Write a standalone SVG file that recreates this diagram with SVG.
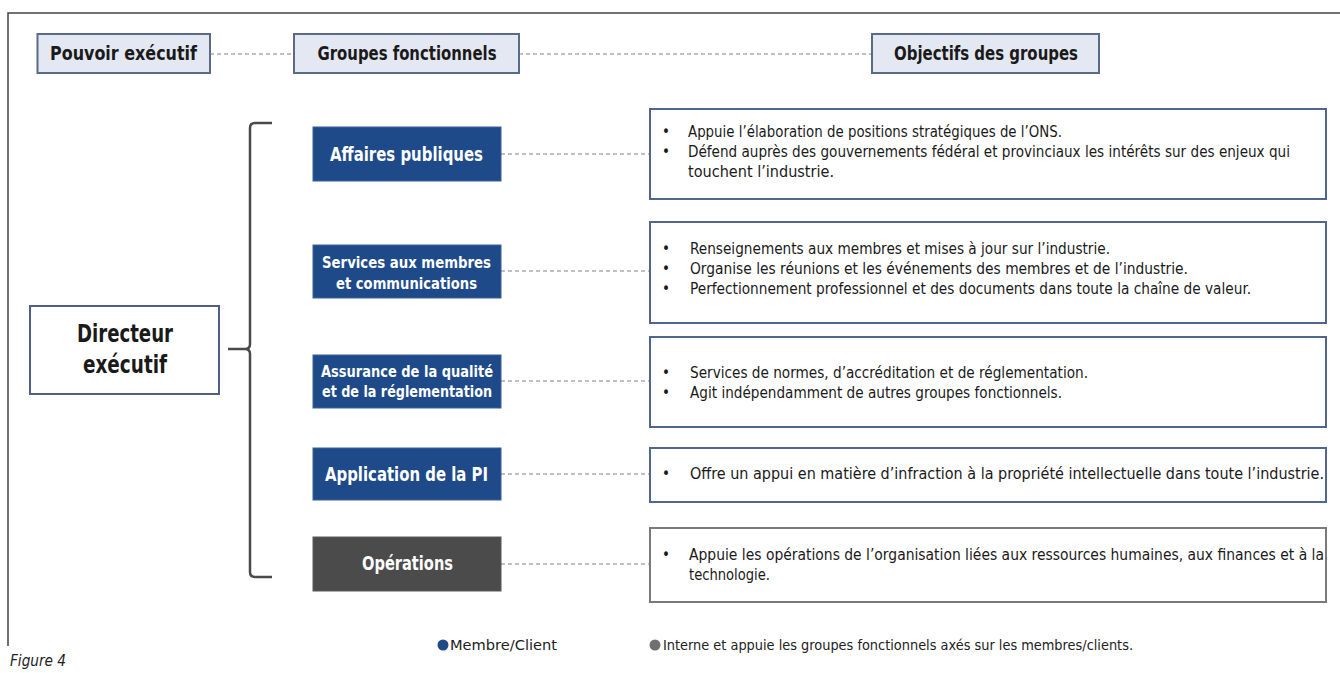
<svg xmlns="http://www.w3.org/2000/svg" width="1340" height="673" viewBox="0 0 1340 673">
<defs>
<style>
.hdr{fill:#e4e8f2;stroke:#5b6a86;stroke-width:2}
.hdrt{font-family:"Liberation Sans Narrow","DejaVu Sans Condensed","Liberation Sans",sans-serif;font-weight:bold;font-size:20px;fill:#1a1a1a;text-anchor:middle}
.blue{fill:#1e4a8a;stroke:#3a629c;stroke-width:1}
.grey{fill:#4b4b4b;stroke:#5a5a5a;stroke-width:1}
.bt{font-family:"Liberation Sans Narrow","DejaVu Sans Condensed","Liberation Sans",sans-serif;font-weight:bold;fill:#ffffff;text-anchor:middle}
.obj{fill:#ffffff;stroke:#4f6690;stroke-width:2}
.objg{fill:#ffffff;stroke:#7a7a7a;stroke-width:2}
.ot{font-family:"Liberation Sans Narrow","DejaVu Sans Condensed","Liberation Sans",sans-serif;font-size:15px;fill:#1a1a1a}
.dash{stroke:#a8acb4;stroke-width:1.5;stroke-dasharray:4 3;fill:none}
.leg{font-family:"Liberation Sans Narrow","DejaVu Sans Condensed","Liberation Sans",sans-serif;font-size:14.5px;fill:#222}
</style>
</defs>
<rect width="1340" height="673" fill="#ffffff"/>
<path d="M8 646 V13 H1340" fill="none" stroke="#444" stroke-width="1.5"/>

<g id="connectors">
<line class="dash" x1="210" y1="54" x2="294" y2="54"/>
<line class="dash" x1="519" y1="54" x2="872" y2="54"/>
<line class="dash" x1="501" y1="154" x2="650" y2="154"/>
<line class="dash" x1="501" y1="271" x2="650" y2="271"/>
<line class="dash" x1="501" y1="381" x2="650" y2="381"/>
<line class="dash" x1="501" y1="474" x2="650" y2="474"/>
<line class="dash" x1="501" y1="564" x2="650" y2="564"/>
<path d="M272 123 H255 Q250 123 250 128 V344 Q250 349 245 349 H228 M245 349 Q250 349 250 354 V572 Q250 577 255 577 H272" fill="none" stroke="#4a4a4a" stroke-width="2.5"/>
</g>

<g id="hdr-pouvoir">
<rect class="hdr" x="37.5" y="34" width="172.5" height="39"/>
<text class="hdrt" x="123.5" y="60" textLength="147" lengthAdjust="spacingAndGlyphs">Pouvoir exécutif</text>
</g>
<g id="hdr-groupes">
<rect class="hdr" x="294" y="34" width="225" height="39"/>
<text class="hdrt" x="407" y="60" textLength="179" lengthAdjust="spacingAndGlyphs">Groupes fonctionnels</text>
</g>
<g id="hdr-objectifs">
<rect class="hdr" x="872" y="34" width="227" height="39"/>
<text class="hdrt" x="986" y="60" textLength="184" lengthAdjust="spacingAndGlyphs">Objectifs des groupes</text>
</g>

<g id="directeur">
<rect x="30" y="306" width="189" height="88" fill="#ffffff" stroke="#4f5f8a" stroke-width="2"/>
<text class="hdrt" style="font-size:25px" x="125" y="342" textLength="96" lengthAdjust="spacingAndGlyphs">Directeur</text>
<text class="hdrt" style="font-size:25px" x="125" y="373" textLength="84" lengthAdjust="spacingAndGlyphs">exécutif</text>
</g>

<g id="g-affaires">
<rect class="blue" x="313" y="127" width="188" height="54"/>
<text class="bt" style="font-size:19px" x="406.5" y="161" textLength="153" lengthAdjust="spacingAndGlyphs">Affaires publiques</text>
</g>
<g id="g-services">
<rect class="blue" x="313" y="245" width="188" height="53"/>
<text class="bt" style="font-size:16.5px" x="406.5" y="268" textLength="169" lengthAdjust="spacingAndGlyphs">Services aux membres</text>
<text class="bt" style="font-size:16.5px" x="406.5" y="289" textLength="141" lengthAdjust="spacingAndGlyphs">et communications</text>
</g>
<g id="g-assurance">
<rect class="blue" x="313" y="355" width="188" height="53"/>
<text class="bt" style="font-size:16px" x="407" y="377" textLength="172" lengthAdjust="spacingAndGlyphs">Assurance de la qualité</text>
<text class="bt" style="font-size:16px" x="407" y="397" textLength="170" lengthAdjust="spacingAndGlyphs">et de la réglementation</text>
</g>
<g id="g-application">
<rect class="blue" x="313" y="448" width="188" height="52"/>
<text class="bt" style="font-size:19px" x="406.5" y="481" textLength="163" lengthAdjust="spacingAndGlyphs">Application de la PI</text>
</g>
<g id="g-operations">
<rect class="grey" x="313" y="537" width="188" height="54"/>
<text class="bt" style="font-size:19px" x="407.5" y="570" textLength="91" lengthAdjust="spacingAndGlyphs">Opérations</text>
</g>

<g id="o-affaires">
<rect class="obj" x="650" y="109" width="676" height="90"/>
<text class="ot" x="662" y="137">•</text>
<text class="ot" x="688" y="137" textLength="374" lengthAdjust="spacingAndGlyphs">Appuie l’élaboration de positions stratégiques de l’ONS.</text>
<text class="ot" x="662" y="157">•</text>
<text class="ot" x="688" y="157" textLength="602" lengthAdjust="spacingAndGlyphs">Défend auprès des gouvernements fédéral et provinciaux les intérêts sur des enjeux qui</text>
<text class="ot" x="688" y="177" textLength="146" lengthAdjust="spacingAndGlyphs">touchent l’industrie.</text>
</g>
<g id="o-services">
<rect class="obj" x="650" y="222" width="676" height="101"/>
<text class="ot" x="662" y="254">•</text>
<text class="ot" x="690" y="254" textLength="420" lengthAdjust="spacingAndGlyphs">Renseignements aux membres et mises à jour sur l’industrie.</text>
<text class="ot" x="662" y="274">•</text>
<text class="ot" x="690" y="274" textLength="498" lengthAdjust="spacingAndGlyphs">Organise les réunions et les événements des membres et de l’industrie.</text>
<text class="ot" x="662" y="294">•</text>
<text class="ot" x="690" y="294" textLength="561" lengthAdjust="spacingAndGlyphs">Perfectionnement professionnel et des documents dans toute la chaîne de valeur.</text>
</g>
<g id="o-assurance">
<rect class="obj" x="650" y="337" width="676" height="90"/>
<text class="ot" x="662" y="378">•</text>
<text class="ot" x="690" y="378" textLength="398" lengthAdjust="spacingAndGlyphs">Services de normes, d’accréditation et de réglementation.</text>
<text class="ot" x="662" y="398">•</text>
<text class="ot" x="690" y="398" textLength="372" lengthAdjust="spacingAndGlyphs">Agit indépendamment de autres groupes fonctionnels.</text>
</g>
<g id="o-application">
<rect class="obj" x="650" y="448" width="676" height="54"/>
<text class="ot" x="662" y="479">•</text>
<text class="ot" x="690" y="479" textLength="634" lengthAdjust="spacingAndGlyphs">Offre un appui en matière d’infraction à la propriété intellectuelle dans toute l’industrie.</text>
</g>
<g id="o-operations">
<rect class="objg" x="650" y="528" width="676" height="74"/>
<text class="ot" x="662" y="560">•</text>
<text class="ot" x="689" y="560" textLength="635" lengthAdjust="spacingAndGlyphs">Appuie les opérations de l’organisation liées aux ressources humaines, aux finances et à la</text>
<text class="ot" x="689" y="580" textLength="81" lengthAdjust="spacingAndGlyphs">technologie.</text>
</g>

<g id="legend">
<circle cx="443" cy="645" r="5.5" fill="#1e4a8a"/>
<text class="leg" x="450" y="650" textLength="107" lengthAdjust="spacingAndGlyphs">Membre/Client</text>
<circle cx="655" cy="645" r="5.5" fill="#707070"/>
<text class="leg" x="663" y="650" textLength="470" lengthAdjust="spacingAndGlyphs">Interne et appuie les groupes fonctionnels axés sur les membres/clients.</text>
</g>
<text class="leg" style="font-style:italic;font-size:16px" x="10" y="666" textLength="56" lengthAdjust="spacingAndGlyphs">Figure 4</text>
</svg>
